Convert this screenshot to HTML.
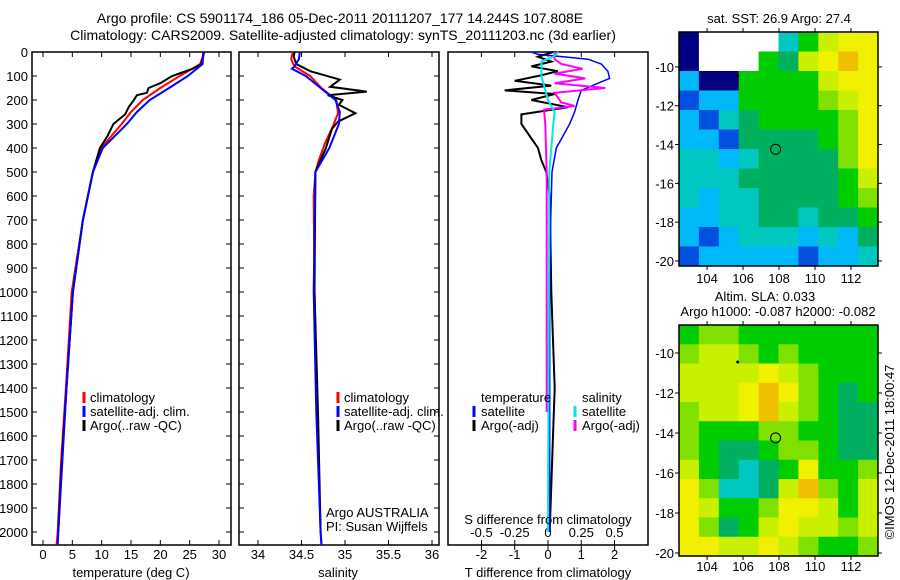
<!DOCTYPE html>
<html><head><meta charset="utf-8"><style>
html,body{margin:0;padding:0;background:#fff;}
svg{display:block;font-family:"Liberation Sans",sans-serif;}
text{font-size:13px;fill:#000;}
</style></head><body>
<svg id="fig" width="900" height="580" viewBox="0 0 900 580">
<text x="340" y="23" text-anchor="middle" style="font-size:14px">Argo profile: CS 5901174_186 05-Dec-2011 20111207_177 14.244S 107.808E</text>
<text x="343" y="40" text-anchor="middle" style="font-size:14px">Climatology: CARS2009. Satellite-adjusted climatology: synTS_20111203.nc (3d earlier)</text>
<g id="layer"></g>
</svg>
<script>
// ---------- data ----------
const depthTicks=[0,100,200,300,400,500,600,700,800,900,1000,1100,1200,1300,1400,1500,1600,1700,1800,1900,2000];
const tempTicks=[0,5,10,15,20,25,30];
const salTicks=[34,34.5,35,35.5,36];
const tdTicks=[-2,-1,0,1,2];
const sdTicks=[-0.5,-0.25,0,0.25,0.5];
const sdTickLabels=["-0.5","-0.25","0","0.25","0.5"];

const tClimDepth=[0,50,100,150,200,250,300,400,500,700,1000,1400,1700,2000,2054];
const tClim=[27.5,26.8,23.3,20,17,15,13.4,9.9,8.5,6.8,4.9,3.9,3.1,2.5,2.3];
const tSatDepth=[0,50,100,150,200,250,300,400,500,700,1000,1400,1700,2000,2054];
const tSat=[27.3,27.2,24.7,21.5,18.2,16,14.3,10.2,8.5,6.8,5.1,4,3.3,2.6,2.5];
const tArgoDepth=[0,20,50,70,100,130,150,170,180,200,230,260,290,300,350,400,500,700,1000,1400,1700,2000];
const tArgo=[27.4,27.3,27,25.5,22,20,18,17.7,16,15.5,14.6,14,12.5,12,11,9.7,8.5,6.8,5.1,4,3.2,2.6];

const sClimDepth=[0,30,60,100,150,200,255,310,380,450,500,600,1000,1500,2000,2054];
const sClim=[34.40,34.38,34.42,34.60,34.73,34.90,34.92,34.86,34.77,34.70,34.66,34.64,34.65,34.68,34.72,34.73];
const sSatDepth=[0,30,60,70,100,150,200,250,300,400,500,1000,1500,2000,2054];
const sSat=[34.48,34.47,34.42,34.39,34.55,34.72,34.89,34.94,34.93,34.82,34.66,34.64,34.67,34.72,34.73];
const sArgoDepth=[0,20,50,80,115,145,165,180,200,220,255,290,320,400,500,1000,1500,2000];
const sArgo=[34.42,34.41,34.44,34.60,34.94,34.83,35.25,34.80,34.97,34.93,35.12,34.92,34.85,34.78,34.66,34.65,34.69,34.72];

const dTSatDepth=[0,10,20,30,50,80,110,130,160,200,250,300,350,400,500,700,1000,2000];
const dTSat=[-0.5,-0.3,0.45,1.2,1.6,1.8,1.85,1.5,1.0,0.9,0.8,0.65,0.45,0.25,0.12,0.08,0.05,0.05];
const dTArgoDepth=[0,20,40,60,80,100,120,140,160,175,200,230,260,300,350,400,450,500,600,1000,1400,1600,2000];
const dTArgo=[0.15,-0.3,0.1,-0.5,0.3,-0.3,-1.0,0.1,-1.3,0.2,-0.5,0.6,-0.8,-0.8,-0.55,-0.3,-0.2,-0.05,0.05,0.1,0.2,0.15,0.05];
const dSArgoDepth=[0,30,50,70,90,110,130,150,170,210,225,240,300,500,1500];
const dSArgo=[0.05,0.05,0.1,0.26,0.05,0.28,0.05,0.43,0.05,0.1,0.2,-0.03,-0.02,-0.01,-0.01];
const dSSatDepth=[0,20,40,100,200,250,300,500,2000];
const dSSat=[0.08,0.04,-0.05,-0.05,0,0.05,0.04,0.01,0.0];

const mapColors=["#ffffff","#000080","#0050e0","#00b8f8","#00c8c0","#00b060","#00cc00","#80e000","#c8f000","#f0f000","#f0c000"];
const sstGrid=[
"1000046899","10006589a9","3116666899","2336666789","3245666679","3325555679",
"4434555579","4445555568","4344555567","3344554556","3234443435","2333332334"];
const slaGrid=[
"6776666666","7887676666","8888987666","8889a97656","7889a87655","7666776655",
"7655677655","8654569667","974458a768","9866799868","9756898878","9988987667"];
const mapLonTicks=[104,106,108,110,112];
const mapLatTicks=[-10,-12,-14,-16,-18,-20];
const argoLon=107.808, argoLat=-14.244;

// ---------- helpers ----------
const NS="http://www.w3.org/2000/svg";
const layer=document.getElementById('layer');
function mk(tag,attrs,parent){const e=document.createElementNS(NS,tag);for(const k in attrs)e.setAttribute(k,attrs[k]);(parent||layer).appendChild(e);return e;}
const Y0=52,PXM=0.24,YB=545;
function yD(d){return Y0+d*PXM;}

function frame(x0,x1,name){
  const r=mk('rect',{x:x0,y:Y0,width:x1-x0,height:YB-Y0,fill:'none',stroke:'#000','stroke-width':1.5});
  
  
}
function xTicks(ticks,labels,fx,ly,name){
  ticks.forEach((t,i)=>{
    const x=fx(t);
    mk('line',{x1:x,x2:x,y1:YB,y2:YB-5,stroke:'#000'});
    mk('line',{x1:x,x2:x,y1:Y0,y2:Y0+5,stroke:'#000'});
    const tx=mk('text',{x:x,y:ly,'text-anchor':'middle'});
    tx.textContent=labels[i];
    
    
  });
}
function yTicks(x0,x1){
  depthTicks.forEach(d=>{const y=yD(d);mk('line',{x1:x0,x2:x0+5,y1:y,y2:y,stroke:'#000'});mk('line',{x1:x1,x2:x1-5,y1:y,y2:y,stroke:'#000'});});
}
function line(ds,vs,fx,color,w,name){
  const pts=ds.map((d,i)=>fx(vs[i]).toFixed(1)+','+yD(d).toFixed(1)).join(' ');
  const p=mk('polyline',{points:pts,fill:'none',stroke:color,'stroke-width':w,'stroke-linejoin':'miter'});
  
  
}
function txt(x,y,s,name,anchor){
  const t=mk('text',{x:x,y:y,'text-anchor':anchor||'start'});t.textContent=s;
  
  
  return t;
}
function legMark(x,y,color,name){
  const l=mk('line',{x1:x,x2:x,y1:y-11,y2:y,stroke:color,'stroke-width':3});
  
  
}

depthTicks.forEach(d=>{txt(28,yD(d)+5,String(d),'depth-tick-label','end');});

// ---------- panel 1: temperature ----------
const fT=v=>43+v*5.867;
frame(32,231,'temperature-panel');
yTicks(32,231);
xTicks(tempTicks,tempTicks.map(String),fT,559,'temperature');
line(tClimDepth,tClim,fT,'#ff0000',2,'temperature-climatology-line');
line(tArgoDepth,tArgo,fT,'#000000',2,'temperature-argo-line');
line(tSatDepth,tSat,fT,'#0000ff',2,'temperature-satellite-line');
txt(131,577,'temperature (deg C)','temperature-axis-title','middle');
legMark(84,403,'#ff0000','legend-climatology-marker');txt(90,402,'climatology','legend-climatology');
legMark(84,417,'#0000ff','legend-satellite-marker');txt(90,416,'satellite-adj. clim.','legend-satellite');
legMark(84,431,'#000000','legend-argo-marker');txt(90,430,'Argo(..raw -QC)','legend-argo');

// ---------- panel 2: salinity ----------
const fS=v=>258+(v-34)*87;
frame(239,439,'salinity-panel');
yTicks(239,439);
xTicks(salTicks,["34","34.5","35","35.5","36"],fS,559,'salinity');
line(sClimDepth,sClim,fS,'#ff0000',2,'salinity-climatology-line');
line(sArgoDepth,sArgo,fS,'#000000',2,'salinity-argo-line');
line(sSatDepth,sSat,fS,'#0000ff',2,'salinity-satellite-line');
txt(338,577,'salinity','salinity-axis-title','middle');
legMark(338,403,'#ff0000','legend2-climatology-marker');txt(344,402,'climatology','legend2-climatology');
legMark(338,417,'#0000ff','legend2-satellite-marker');txt(344,416,'satellite-adj. clim.','legend2-satellite');
legMark(338,431,'#000000','legend2-argo-marker');txt(344,430,'Argo(..raw -QC)','legend2-argo');
txt(326,517,'Argo AUSTRALIA','credit-argo-australia');
txt(326,531,'PI: Susan Wijffels','credit-pi');

// ---------- panel 3: differences ----------
const fdT=v=>548+v*33.3;
const fdS=v=>548+v*133;
frame(448,648,'difference-panel');
tdTicks.forEach(t=>{const x=fdT(t);mk('line',{x1:x,x2:x,y1:Y0,y2:Y0+5,stroke:'#000'});});
tdTicks.forEach(t=>{const x=fdT(t);mk('line',{x1:x,x2:x,y1:YB,y2:YB+5,stroke:'#000'});txt(x,559,String(t),'t-diff-tick-label','middle');});
sdTicks.forEach((t,i)=>{const x=fdS(t);mk('line',{x1:x,x2:x,y1:YB,y2:YB-5,stroke:'#000'});txt(x,537,sdTickLabels[i],'s-diff-tick-label','middle');});
line(dTArgoDepth,dTArgo,fdT,'#000000',2,'t-diff-argo-line');
line(dTSatDepth,dTSat,fdT,'#0000ff',1.5,'t-diff-satellite-line');
line(dSArgoDepth,dSArgo,fdS,'#ff00ff',2,'s-diff-argo-line');
line(dSSatDepth,dSSat,fdS,'#00e8e8',2,'s-diff-satellite-line');
txt(548,524,'S difference from climatology','s-diff-axis-title','middle');
txt(548,577,'T difference from climatology','t-diff-axis-title','middle');
txt(481,402,'temperature','legend3-temperature-header');
txt(582,402,'salinity','legend3-salinity-header');
legMark(474,417,'#0000ff','legend3-t-satellite-marker');txt(481,416,'satellite','legend3-t-satellite');
legMark(474,431,'#000000','legend3-t-argo-marker');txt(481,430,'Argo(-adj)','legend3-t-argo');
legMark(575,417,'#00e8e8','legend3-s-satellite-marker');txt(582,416,'satellite','legend3-s-satellite');
legMark(575,431,'#ff00ff','legend3-s-argo-marker');txt(582,430,'Argo(-adj)','legend3-s-argo');

// ---------- maps ----------
function drawMap(grid,x0,x1,y0,y1,latTop,latBot,name,labelY){
  const g=mk('g',{});
  
  
  const lonL=102.44,lonR=113.5;
  const fx=v=>x0+(v-lonL)/(lonR-lonL)*(x1-x0);
  const fy=v=>y0+(latTop-v)/(latTop-latBot)*(y1-y0);
  const rows=grid.length,cols=grid[0].length;
  const cw=(x1-x0)/cols,ch=(y1-y0)/rows;
  for(let r=0;r<rows;r++)for(let c=0;c<cols;c++){
    const col=mapColors[parseInt(grid[r][c],16)];
    const cell=mk('rect',{x:x0+c*cw,y:y0+r*ch,width:cw+0.5,height:ch+0.5,fill:col},g);
    
    
  }
  mk('rect',{x:x0,y:y0,width:x1-x0,height:y1-y0,fill:'none',stroke:'#000','stroke-width':1.5},g);
  mapLonTicks.forEach(t=>{const x=fx(t);mk('line',{x1:x,x2:x,y1:y1,y2:y1+4,stroke:'#000'},g);mk('line',{x1:x,x2:x,y1:y0,y2:y0-4,stroke:'#000'},g);txt(x,labelY,String(t),name+'-lon-label','middle');});
  mapLatTicks.forEach(t=>{const y=fy(t);mk('line',{x1:x0,x2:x0-4,y1:y,y2:y,stroke:'#000'},g);mk('line',{x1:x1,x2:x1+4,y1:y,y2:y,stroke:'#000'},g);txt(x0-5,y+5,String(t),name+'-lat-label','end');});
  const m=mk('circle',{cx:fx(argoLon),cy:fy(argoLat),r:5,fill:'none',stroke:'#000'},g);
  
  
  mk('circle',{cx:fx(105.7),cy:fy(-10.45),r:1.5,fill:'#000'},g);
}
drawMap(sstGrid,679,878,32,266,-8.2,-20.26,'sst-map',283);
drawMap(slaGrid,679,878,325,556,-8.6,-20.15,'sla-map',571);
txt(779,23,'sat. SST: 26.9 Argo: 27.4','sst-map-title','middle');
txt(765,301,'Altim. SLA: 0.033','sla-map-title','middle');
txt(778,316,'Argo h1000: -0.087 h2000: -0.082','sla-map-subtitle','middle');
const cr=txt(0,0,'©IMOS 12-Dec-2011 18:00:47','copyright','middle');
cr.setAttribute('transform','translate(894,452) rotate(-90)');
</script>
</body></html>
